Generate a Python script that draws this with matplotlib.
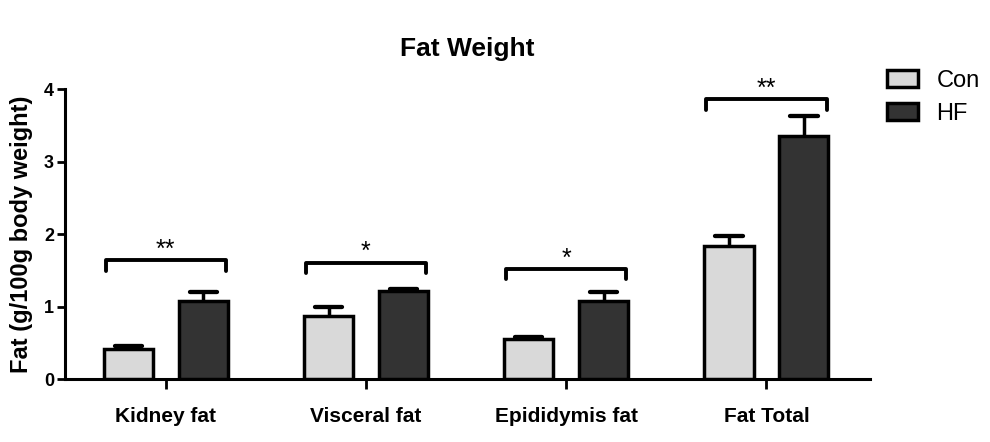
import numpy as np
import matplotlib.pyplot as plt

plt.rcParams['font.family'] = ['Liberation Sans', 'DejaVu Sans']

# data
categories = ['Kidney fat', 'Visceral fat', 'Epididymis fat', 'Fat Total']
con_mean = [0.42, 0.88, 0.56, 1.84]
con_err = [0.04, 0.12, 0.03, 0.13]
hf_mean = [1.08, 1.22, 1.08, 3.36]
hf_err = [0.12, 0.03, 0.13, 0.27]
# significance brackets: height and label
bracket_y = [1.64, 1.61, 1.52, 3.86]
stars = ['**', '*', '*', '**']

con_color = '#d9d9d9'
hf_color = '#333333'

fig = plt.figure(figsize=(9.9, 4.42), dpi=100)
ax = fig.add_axes([65 / 990, 1 - 379.3 / 442, 805 / 990, 290 / 442])

x = np.arange(len(categories))
off = 0.187
w = 0.245
lw = 2.5
cap = 0.068

ax.bar(x - off, con_mean, w, color=con_color, edgecolor='black', linewidth=lw,
       label='Con', zorder=3)
ax.bar(x + off, hf_mean, w, color=hf_color, edgecolor='black', linewidth=lw,
       label='HF', zorder=3)

# upper error bars only (stem + cap)
for pos, m, e in [(x - off, con_mean, con_err), (x + off, hf_mean, hf_err)]:
    top = np.array(m) + np.array(e)
    ax.vlines(pos, m, top, color='black', lw=lw, zorder=2)
    ax.hlines(top, pos - cap, pos + cap, color='black', lw=lw + 0.6,
              capstyle='round', zorder=2)

# brackets with stars
drop = 0.14
for xi, by, s in zip(x, bracket_y, stars):
    ax.plot([xi - 0.30, xi - 0.30, xi + 0.30, xi + 0.30],
            [by - drop, by, by, by - drop], color='black', lw=lw + 0.3,
            solid_capstyle='round', solid_joinstyle='round', clip_on=False, zorder=4)
    ax.annotate(s, (xi, by), xytext=(0, -1), textcoords='offset points',
                ha='center', va='bottom', fontsize=18, annotation_clip=False)

ax.set_xlim(-0.503, 3.517)
ax.set_ylim(0, 4)
ax.set_yticks([0, 1, 2, 3, 4])
ax.set_xticks(x)
ax.set_xticklabels(categories, fontsize=15, fontweight='bold')
ax.tick_params(axis='x', length=7, width=2, pad=13)
ax.tick_params(axis='y', length=6, width=2, pad=2, labelsize=13)
for lab in ax.get_yticklabels():
    lab.set_fontweight('bold')

for side in ['top', 'right']:
    ax.spines[side].set_visible(False)
for side in ['left', 'bottom']:
    ax.spines[side].set_linewidth(2.2)

ax.set_ylabel('Fat (g/100g body weight)', fontsize=17, fontweight='bold')
ax.yaxis.set_label_coords(-0.04, 0.5)
ax.set_title('Fat Weight', fontsize=19, fontweight='bold', pad=24)

fig.legend(loc='upper left', bbox_to_anchor=(887 / 990, 1 - 70 / 442),
           frameon=False, fontsize=17, handlelength=1.3, handleheight=0.75,
           labelspacing=0.45, handletextpad=0.8, borderpad=0, borderaxespad=0)

fig.savefig('out.png', dpi=100)
